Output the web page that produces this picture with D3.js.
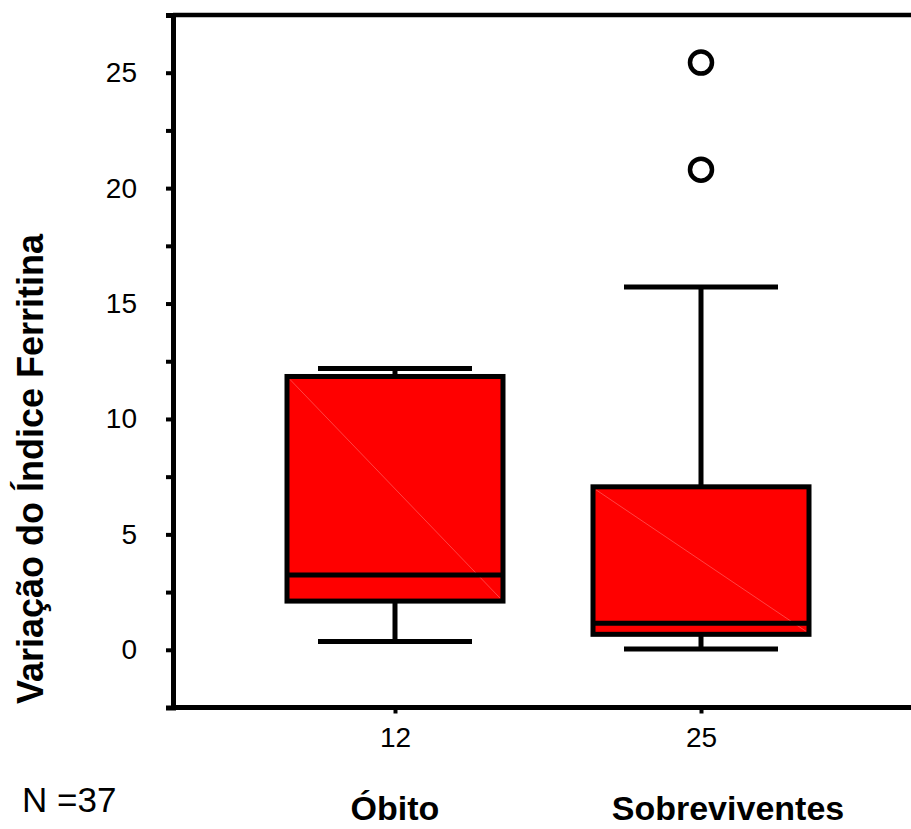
<!DOCTYPE html>
<html>
<head>
<meta charset="utf-8">
<script src="https://cdn.jsdelivr.net/npm/d3@7"></script>
<style>
  body { margin: 0; background: #fff; }
  text { font-family: "Liberation Sans", Arial, sans-serif; fill: #000; }
</style>
</head>
<body>
<div id="chart"></div>
<script>
// groups and their summary values
const groups = ['Óbito', 'Sobreviventes'];
const groupN = [12, 25];
const totalN = 37;
const whiskerLow = [0.36, 0.03];
const q1 = [2.11, 0.67];
const median = [3.24, 1.15];
const q3 = [11.84, 7.06];
const whiskerHigh = [12.19, 15.72];
const outliers = [[], [20.8, 25.44]];
const yTicks = [0, 2.5, 5, 7.5, 10, 12.5, 15, 17.5, 20, 22.5, 25];
const yLabel = 'Variação do Índice Ferritina';

const width = 911, height = 829;

const svg = d3.select('#chart')
  .append('svg')
  .attr('width', width)
  .attr('height', height);

const y = d3.scaleLinear()
  .domain([-2.5, 27.5])
  .range([707.5, 15]);

const x = d3.scalePoint()
  .domain(groups)
  .range([395, 701]);

const axisX0 = 173;
const boxW = 216, capW = 154;

// box plots
const data = groups.map((g, i) => ({
  g, lo: whiskerLow[i], q1: q1[i], med: median[i], q3: q3[i], hi: whiskerHigh[i], out: outliers[i]
}));

const box = svg.append('g')
  .selectAll('g')
  .data(data)
  .join('g');

// whiskers
box.append('line')
  .attr('x1', d => x(d.g)).attr('x2', d => x(d.g))
  .attr('y1', d => y(d.q3)).attr('y2', d => y(d.hi))
  .attr('stroke', '#000').attr('stroke-width', 5);
box.append('line')
  .attr('x1', d => x(d.g)).attr('x2', d => x(d.g))
  .attr('y1', d => y(d.q1)).attr('y2', d => y(d.lo))
  .attr('stroke', '#000').attr('stroke-width', 5);

box.append('rect')
  .attr('x', d => x(d.g) - boxW / 2)
  .attr('width', boxW)
  .attr('y', d => y(d.q3))
  .attr('height', d => y(d.q1) - y(d.q3))
  .attr('fill', '#ff0000');

// faint diagonal seam inside the fill
box.append('line')
  .attr('x1', d => x(d.g) - boxW / 2 + 3).attr('y1', d => y(d.q3) + 3)
  .attr('x2', d => x(d.g) + boxW / 2 - 3).attr('y2', d => y(d.q1) - 3)
  .attr('stroke', '#ff6060').attr('stroke-width', 0.7);

box.append('rect')
  .attr('x', d => x(d.g) - boxW / 2)
  .attr('width', boxW)
  .attr('y', d => y(d.q3))
  .attr('height', d => y(d.q1) - y(d.q3))
  .attr('fill', 'none')
  .attr('stroke', '#000')
  .attr('stroke-width', 5);

box.append('line')
  .attr('x1', d => x(d.g) - boxW / 2).attr('x2', d => x(d.g) + boxW / 2)
  .attr('y1', d => y(d.med)).attr('y2', d => y(d.med))
  .attr('stroke', '#000').attr('stroke-width', 5);

// caps
box.append('line')
  .attr('x1', d => x(d.g) - capW / 2).attr('x2', d => x(d.g) + capW / 2)
  .attr('y1', d => y(d.hi)).attr('y2', d => y(d.hi))
  .attr('stroke', '#000').attr('stroke-width', 5);
box.append('line')
  .attr('x1', d => x(d.g) - capW / 2).attr('x2', d => x(d.g) + capW / 2)
  .attr('y1', d => y(d.lo)).attr('y2', d => y(d.lo))
  .attr('stroke', '#000').attr('stroke-width', 5);

// outliers
box.selectAll('circle')
  .data(d => d.out.map(v => ({ g: d.g, v })))
  .join('circle')
  .attr('cx', d => x(d.g))
  .attr('cy', d => y(d.v))
  .attr('r', 11)
  .attr('fill', '#fff')
  .attr('stroke', '#000')
  .attr('stroke-width', 4.5);

// frame: top and bottom lines
const [yMin, yMax] = y.domain();
svg.append('line')
  .attr('x1', axisX0).attr('x2', width)
  .attr('y1', y(yMax)).attr('y2', y(yMax))
  .attr('stroke', '#000').attr('stroke-width', 4.5);
svg.append('line')
  .attr('x1', axisX0).attr('x2', width)
  .attr('y1', y(yMin)).attr('y2', y(yMin))
  .attr('stroke', '#000').attr('stroke-width', 5);

// y axis
const yAxisG = svg.append('g')
  .attr('transform', `translate(${axisX0},0)`)
  .call(d3.axisLeft(y)
    .tickValues(yTicks)
    .tickSize(7)
    .tickSizeOuter(7)
    .tickPadding(29)
    .tickFormat(d => d % 5 === 0 ? d : ''));
yAxisG.select('.domain').attr('stroke-width', 5);
yAxisG.selectAll('.tick line').attr('stroke-width', 4);
yAxisG.selectAll('text')
  .style('font-family', '"Liberation Sans", Arial, sans-serif')
  .style('font-size', '28px');

// x axis (group sizes as tick labels)
const xAxisG = svg.append('g')
  .attr('transform', `translate(0,${y(yMin)})`)
  .call(d3.axisBottom(x)
    .tickSize(6)
    .tickSizeOuter(0)
    .tickPadding(14)
    .tickFormat((d, i) => groupN[i]));
xAxisG.select('.domain').remove();
xAxisG.selectAll('.tick line').attr('stroke-width', 4);
xAxisG.selectAll('text')
  .style('font-family', '"Liberation Sans", Arial, sans-serif')
  .style('font-size', '28px');

// category names
const labelShift = { 'Óbito': 0, 'Sobreviventes': 27 };
svg.append('g')
  .selectAll('text')
  .data(groups)
  .join('text')
  .attr('x', d => x(d) + labelShift[d])
  .attr('y', 820)
  .attr('text-anchor', 'middle')
  .style('font-size', '34px')
  .style('font-weight', 'bold')
  .text(d => d);

svg.append('text')
  .attr('x', 22)
  .attr('y', 812)
  .style('font-size', '35px')
  .text('N =' + totalN);

// y label
svg.append('text')
  .attr('transform', 'translate(43,469) rotate(-90)')
  .attr('text-anchor', 'middle')
  .style('font-size', '36px')
  .style('font-weight', 'bold')
  .text(yLabel);
</script>
</body>
</html>
